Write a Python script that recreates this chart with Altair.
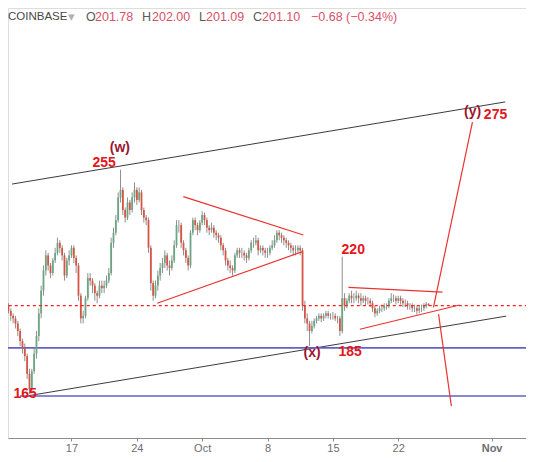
import altair as alt
import pandas as pd

# ---- 6-hour candles, ETH/USD (Coinbase), first candle Sep 9 18:00 ----
first_open = 204
closes = [
    203,
    201, 199, 197, 196,   # Sep 10
    194, 191, 187, 184,   # Sep 11
    181, 174, 168, 175,   # Sep 12
    182, 189, 198, 207,   # Sep 13
    215, 221, 217, 214,   # Sep 14
    219, 222, 226, 224,   # Sep 15
    221, 213, 219, 221,   # Sep 16
    224, 220, 217, 205,   # Sep 17
    196, 197, 204, 212,   # Sep 18
    211, 209, 206, 205,   # Sep 19
    209, 208, 209, 211,   # Sep 20
    214, 226, 230, 235,   # Sep 21
    244, 247, 239, 236,   # Sep 22
    242, 239, 244, 247,   # Sep 23
    243, 246, 239, 236,   # Sep 24
    235, 224, 210, 205,   # Sep 25
    209, 213, 216, 218,   # Sep 26
    221, 217, 216, 219,   # Sep 27
    225, 233, 233, 226,   # Sep 28
    223, 220, 217, 230,   # Sep 29
    235, 233, 231, 234,   # Sep 30
    237, 235, 232, 231,   # Oct 1
    232, 230, 229, 228,   # Oct 2
    225, 223, 219, 217,   # Oct 3
    216, 215, 221, 223,   # Oct 4
    222, 222, 221, 220,   # Oct 5
    223, 226, 226, 227,   # Oct 6
    223, 224, 223, 222,   # Oct 7
    222, 224, 225, 227,   # Oct 8
    230, 229, 228, 227,   # Oct 9
    226, 225, 224, 223,   # Oct 10
    223, 224, 223, 201,   # Oct 11
    196, 194, 191, 193,   # Oct 12
    195, 196, 197, 196,   # Oct 13
    197, 198, 197, 197,   # Oct 14
    197, 196, 196, 191,   # Oct 15
    204, 201, 203, 205,   # Oct 16
    204, 204, 205, 204,   # Oct 17
    203, 204, 203, 203,   # Oct 18
    202, 200, 198, 199,   # Oct 19
    200, 200, 201, 201,   # Oct 20
    203, 204, 204, 203,   # Oct 21
    204, 203, 202, 202,   # Oct 22
    201, 201, 200, 200,   # Oct 23
    199, 200, 200, 201,   # Oct 24
    201.78, 201.10,       # Oct 25
]
highs = [
    205,
    204, 202, 200, 198,
    197, 195, 192, 188,
    186, 182, 176, 176,
    184, 191, 200, 209,
    217, 223, 222, 218,
    220, 224, 228, 227,
    225, 222, 220, 223,
    225, 225, 221, 218,
    206, 199, 205, 214,
    214, 212, 210, 207,
    211, 211, 211, 213,
    216, 228, 232, 237,
    246, 255, 248, 240,
    244, 243, 246, 250,
    248, 248, 247, 240,
    237, 236, 225, 211,
    211, 215, 218, 220,
    223, 222, 219, 221,
    227, 235, 235, 234,
    227, 224, 221, 231,
    236, 236, 234, 235,
    238.5, 238, 236, 233,
    234, 233, 231, 230,
    229, 226, 224, 220,
    219, 217, 222, 224,
    224, 224, 223, 222,
    224, 227, 228, 229,
    228, 225, 225, 224,
    224, 225, 227, 229,
    231, 231, 230, 229,
    228, 227, 226, 225,
    225, 225, 225, 224,
    203, 198, 195, 195,
    196, 197, 198, 198,
    198, 199, 199, 198,
    198.5, 198, 197, 197,
    220.5, 206, 204, 206,
    207, 206, 207, 206,
    206, 205, 205, 204.5,
    204, 203, 201, 200,
    201, 201.5, 202, 202,
    204, 206, 205.5, 205,
    205, 205, 204, 203.5,
    203, 202, 202, 201.5,
    201, 201, 201.5, 202,
    202.5, 202.00,
]
lows = [
    202,
    200, 198, 195, 194,
    192, 189, 185, 182,
    179, 172, 166, 167,
    174, 180, 187, 196,
    205, 213, 215, 212,
    213, 218, 221, 222,
    219, 211, 212, 217,
    220, 218, 214, 203,
    194, 194, 196, 203,
    209, 206, 203, 202,
    204, 206, 206, 208,
    210, 213, 224, 229,
    234, 242, 237, 234,
    235, 237, 238, 242,
    241, 242, 237, 234,
    233, 222, 207, 203,
    204, 207, 211, 214,
    216, 215, 213, 215,
    218, 224, 230, 224,
    221, 218, 215, 216,
    229, 231, 229, 230,
    233, 233, 230, 229,
    230, 228, 227, 226,
    223, 221, 217, 215,
    214, 213, 214, 220,
    220, 220, 219, 218,
    219, 222, 224, 225,
    221, 222, 221, 220,
    220, 221, 223, 224,
    226, 227, 226, 225,
    224, 223, 222, 221,
    221, 222, 221, 199,
    194, 191, 185, 190,
    192, 194, 195, 194.5,
    195, 196, 196, 195.5,
    195.5, 195, 194, 189,
    190, 199, 200, 202,
    202, 202, 203, 202,
    201, 202, 201, 201.5,
    200.5, 198.5, 196.5, 197,
    198, 198.5, 199, 199.5,
    200, 202, 202.5, 201.5,
    202, 201.5, 200.5, 200.5,
    199.5, 199.5, 198.5, 198.5,
    197.5, 198, 198.5, 199,
    200, 201.09,
]
assert len(closes) == len(highs) == len(lows)

# ---- drawn lines: day offsets from Sep 10 00:00 and prices ----
black_d1 = [0.63, 2.21]
black_p1 = [249.3, 165.2]
black_d2 = [53.47, 53.57]
black_p2 = [281.9, 196.9]

red_d1 = [18.98, 16.18, 36.66, 37.89, 45.77, 46.32]
red_p1 = [244.3, 202.0, 208.3, 191.7, 200.4, 197.7]
red_d2 = [31.83, 31.75, 46.74, 48.56, 49.95, 47.69]
red_p2 = [229.1, 222.5, 206.4, 201.3, 273.9, 161.2]

blue_upper = 184.3
blue_lower = 165.2
blue_lower_start = 1.47
last_price = 201.10
dotted_start = -1.0
dotted_end = 56.5

# ---- annotation labels ----
dark_labels = ["(w)", "(x)", "(y)"]
dark_d = [12.18, 32.77, 49.97]
dark_p = [263.6, 182.3, 277.8]
red_labels = ["255", "220", "185", "275"]
red_ld = [10.5, 37.18, 36.84, 52.42]
red_lp = [257.7, 223.1, 182.7, 276.7]
low_label = "165"
low_label_d = 0.78
low_label_p = 166.0

# ---- header ----
header_parts = ["COINBASE", "\u25be", "O", "201.78", "H", "202.00", "L", "201.09",
                "C", "201.10", "\u22120.68 (\u22120.34%)"]
header_kind = ["name", "arrow", "key", "val", "key", "val", "key", "val", "key", "val", "val"]
header_x = [0, 60, 78, 87, 134, 144, 191, 198, 245, 254, 303]

base = pd.Timestamp("2018-09-10 00:00")
start = pd.Timestamp("2018-09-09 18:00")

def day(d):
    return base + pd.to_timedelta(d, unit="D")

times = [start + pd.Timedelta(hours=6 * i) for i in range(len(closes))]
opens = [first_open] + closes[:-1]
candles = pd.DataFrame({"t": times, "open": opens, "high": highs, "low": lows, "close": closes})
candles["dir"] = ["up" if c >= o else "down" for o, c in zip(opens, closes)]

black = pd.DataFrame({"t1": [day(d) for d in black_d1], "p1": black_p1,
                      "t2": [day(d) for d in black_d2], "p2": black_p2})
red = pd.DataFrame({"t1": [day(d) for d in red_d1], "p1": red_p1,
                    "t2": [day(d) for d in red_d2], "p2": red_p2})
blue_low = pd.DataFrame({"t1": [day(blue_lower_start)], "t2": [day(56.5)], "p": [blue_lower]})
hlines = pd.DataFrame({"p": [blue_upper]})
dotted = pd.DataFrame({"t1": [day(dotted_start)], "t2": [day(dotted_end)], "p": [last_price]})
dark_df = pd.DataFrame({"txt": dark_labels, "t": [day(d) for d in dark_d], "p": dark_p})
red_df = pd.DataFrame({"txt": red_labels, "t": [day(d) for d in red_ld], "p": red_lp})
low_df = pd.DataFrame({"txt": [low_label], "t": [day(low_label_d)], "p": [low_label_p]})

x_scale = alt.Scale(
    domain=[alt.DateTime(year=2018, month=9, date=10, hours=17, minutes=39),
            alt.DateTime(year=2018, month=11, date=4, hours=3, minutes=36)],
    nice=False)
y_scale = alt.Scale(domain=[148.53, 319.17], nice=False, zero=False)

tick_vals = [alt.DateTime(year=2018, month=9, date=17), alt.DateTime(year=2018, month=9, date=24),
             alt.DateTime(year=2018, month=10, date=1), alt.DateTime(year=2018, month=10, date=8),
             alt.DateTime(year=2018, month=10, date=15), alt.DateTime(year=2018, month=10, date=22),
             alt.DateTime(year=2018, month=11, date=1)]

x_axis = alt.Axis(values=tick_vals, title=None, grid=False,
                  labelExpr="date(datum.value) == 1 ? timeFormat(datum.value, '%b') : timeFormat(datum.value, '%-d')",
                  labelFontWeight={"condition": {"test": "month(datum.value) == 10", "value": "bold"}, "value": "normal"},
                  domainColor="#8c8c8c", tickColor="#8c8c8c", tickSize=3, labelPadding=1,
                  labelColor="#6e6e6e", labelFontSize=11, labelFont="Liberation Sans")

X = lambda f: alt.X(f, type="temporal", scale=x_scale, axis=x_axis)
Y = lambda f: alt.Y(f, type="quantitative", scale=y_scale, axis=None)

layers = []

layers.append(alt.Chart(black).mark_rule(color="#3c3c3c", strokeWidth=1).encode(
    x=X("t1"), x2="t2", y=Y("p1"), y2="p2"))
layers.append(alt.Chart(hlines).mark_rule(color="#6262c6", strokeWidth=1.6).encode(y=Y("p")))
layers.append(alt.Chart(blue_low).mark_rule(color="#6262c6", strokeWidth=1.6).encode(
    x=X("t1"), x2="t2", y=Y("p")))

layers.append(alt.Chart(candles).mark_rule(color="#737375", strokeWidth=0.8, clip=True).encode(
    x=X("t"), y=Y("low"), y2="high"))
layers.append(alt.Chart(candles).mark_bar(size=1.8, clip=True).encode(
    x=X("t"), y=Y("open"), y2="close",
    color=alt.Color("dir:N", scale=alt.Scale(domain=["up", "down"], range=["#6ba583", "#d75442"]), legend=None)))

layers.append(alt.Chart(dotted).mark_rule(stroke="#ff2020", color="#ff2020", strokeOpacity=1,
                                          strokeWidth=1.2, strokeDash=[3, 3]).encode(
    x=X("t1"), x2="t2", y=Y("p")))

layers.append(alt.Chart(red).mark_rule(color="#e8342f", strokeWidth=1.2).encode(
    x=X("t1"), x2="t2", y=Y("p1"), y2="p2"))

layers.append(alt.Chart(dark_df).mark_text(color="#9c1630", fontSize=14, fontWeight="bold",
                                           font="Liberation Sans", align="center", baseline="middle").encode(
    x=X("t"), y=Y("p"), text="txt:N"))
layers.append(alt.Chart(red_df).mark_text(color="#e3161c", fontSize=14, fontWeight="bold",
                                          font="Liberation Sans", align="center", baseline="middle").encode(
    x=X("t"), y=Y("p"), text="txt:N"))
layers.append(alt.Chart(low_df).mark_text(color="#e3161c", fontSize=14, fontWeight="bold",
                                          font="Liberation Sans", align="left", baseline="middle").encode(
    x=X("t"), y=Y("p"), text="txt:N"))

header_colors = {"name": "#474747", "arrow": "#b0b0b0", "key": "#5a5a5a", "val": "#d8506a"}
for txt, kind, hx in zip(header_parts, header_kind, header_x):
    layers.append(alt.Chart(pd.DataFrame({"a": [0]})).mark_text(
        color=header_colors[kind], fontSize=11.5 if kind == "name" else 12.5,
        font="Liberation Sans", align="left", baseline="middle").encode(
        x=alt.value(hx), y=alt.value(9), text=alt.value(txt)))

chart = alt.layer(*layers).properties(
    width=518, height=430,
    autosize=alt.AutoSizeParams(type="none"),
    padding={"left": 0, "top": 0, "right": 0, "bottom": 16},
).configure_view(stroke=None).configure(background="white")

chart.save("out.html", embed_options={"renderer": "svg", "actions": False})
